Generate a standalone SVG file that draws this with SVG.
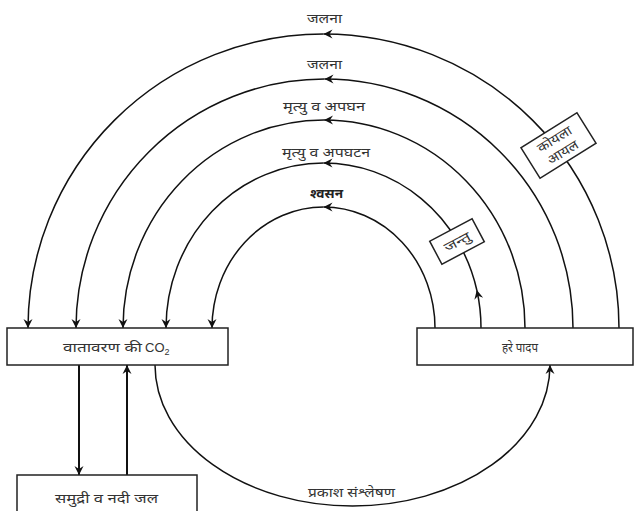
<svg xmlns="http://www.w3.org/2000/svg" width="635" height="511" viewBox="0 0 635 511">
<style>
.box{fill:#fff;stroke:#222;stroke-width:1.5}
.ln{fill:none;stroke:#111;stroke-width:1.5}
.lnb{fill:none;stroke:#111;stroke-width:2}
.t{font-family:"Noto Sans","Noto Sans Devanagari","Lohit Devanagari",sans-serif;font-size:13px;fill:#333;text-anchor:middle}
.b{font-weight:bold;fill:#222}
</style>
<defs>
<marker id="ah" viewBox="-10 -6 12 12" markerWidth="12" markerHeight="12" refX="0" refY="0" orient="auto" markerUnits="userSpaceOnUse">
<path d="M0,0 L-9,-4.5 L-6,0 L-9,4.5 Z" fill="#111"/>
</marker>
</defs>
<rect width="635" height="511" fill="#fff"/>
<g id="connectors">
<path class="ln" d="M435,328 A111.5 121 0 0 0 323.5,207" marker-end="url(#ah)"/>
<path class="ln" d="M323.5,207 A111.5 121 0 0 0 212,328" marker-end="url(#ah)"/>
<path class="ln" d="M481,328 A157.5 165 0 0 0 476.8,290" marker-end="url(#ah)"/>
<path class="ln" d="M476.8,290 A157.5 165 0 0 0 323.5,163" marker-end="url(#ah)"/>
<path class="ln" d="M323.5,163 A157.5 165 0 0 0 166,328" marker-end="url(#ah)"/>
<path class="ln" d="M525,328 A201 208 0 0 0 324,120" marker-end="url(#ah)"/>
<path class="ln" d="M324,120 A201 208 0 0 0 123,328" marker-end="url(#ah)"/>
<path class="ln" d="M573,328 A248.5 249 0 0 0 324.5,79" marker-end="url(#ah)"/>
<path class="ln" d="M324.5,79 A248.5 249 0 0 0 76,328" marker-end="url(#ah)"/>
<path class="ln" d="M619,328 A295.5 294 0 0 0 323.5,34" marker-end="url(#ah)"/>
<path class="ln" d="M323.5,34 A295.5 294 0 0 0 28,328" marker-end="url(#ah)"/>
<path class="ln" d="M155,365 A197.5 141 0 0 0 550,365" marker-end="url(#ah)"/>
<path class="lnb" d="M79,365 L79,475" marker-end="url(#ah)"/>
<path class="lnb" d="M127,475 L127,365" marker-end="url(#ah)"/>
</g>
<g id="labels">
<text class="t" x="324.5" y="23" textLength="35" lengthAdjust="spacingAndGlyphs">जलना</text>
<text class="t" x="324.5" y="69" textLength="35" lengthAdjust="spacingAndGlyphs">जलना</text>
<text class="t" x="324" y="111" textLength="82" lengthAdjust="spacingAndGlyphs">मृत्यु व अपघन</text>
<text class="t" x="326" y="157" textLength="88" lengthAdjust="spacingAndGlyphs">मृत्यु व अपघटन</text>
<text class="t b" x="326.5" y="198" textLength="33" lengthAdjust="spacingAndGlyphs">श्वसन</text>
<text class="t" x="351.5" y="497" textLength="87" lengthAdjust="spacingAndGlyphs">प्रकाश संश्लेषण</text>
</g>
<g id="node-co2">
<rect class="box" x="7" y="328" width="221" height="37"/>
<text class="t" x="102.5" y="352" textLength="79" lengthAdjust="spacingAndGlyphs">वातावरण की</text>
<text x="145" y="352" font-family="Liberation Sans,Arial,sans-serif" font-size="13" fill="#333">CO<tspan font-size="9" dy="3">2</tspan></text>
</g>
<g id="node-plants">
<rect class="box" x="417" y="328" width="216" height="37"/>
<text class="t" x="520" y="352" textLength="36" lengthAdjust="spacingAndGlyphs">हरे पादप</text>
</g>
<g id="node-water">
<rect class="box" x="17" y="475" width="180" height="40"/>
<text class="t" x="106.5" y="503" textLength="103" lengthAdjust="spacingAndGlyphs">समुद्री व नदी जल</text>
</g>
<g id="node-animals" transform="rotate(-28 457 241.5)">
<rect class="box" x="433" y="228.5" width="48" height="26"/>
<text class="t" x="457" y="246.5" textLength="28" lengthAdjust="spacingAndGlyphs">जन्तु</text>
</g>
<g id="node-coal" transform="rotate(-32 558.5 145.5)">
<rect class="box" x="525.5" y="127.5" width="66" height="36"/>
<text class="t" x="558.5" y="142.5" textLength="38" lengthAdjust="spacingAndGlyphs">कोयला</text>
<text class="t" x="558.5" y="158" textLength="34" lengthAdjust="spacingAndGlyphs">आयल</text>
</g>
</svg>
